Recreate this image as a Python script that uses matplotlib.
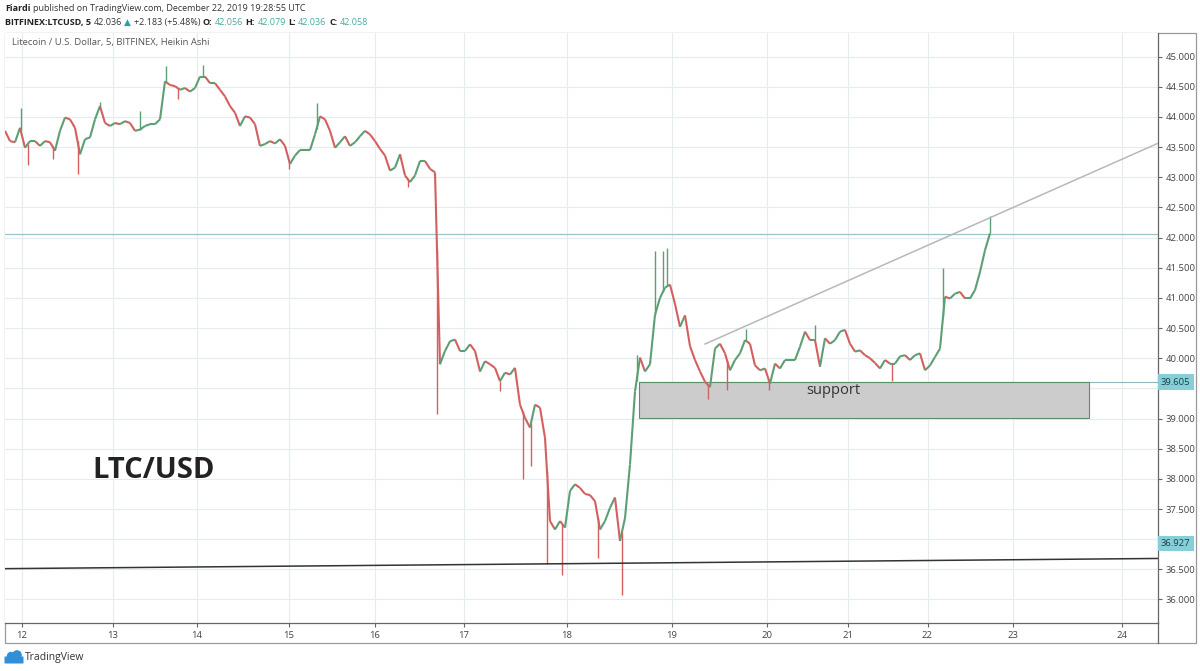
import numpy as np
import matplotlib.pyplot as plt
import matplotlib.transforms as mtransforms
from matplotlib.collections import LineCollection
from matplotlib.patches import Rectangle, Circle, FancyBboxPatch

plt.rcParams['font.family'] = ['Open Sans', 'DejaVu Sans']

# Heikin Ashi closes, LTC/USD 5m (Bitfinex), one value per 5 px
close_dec12_16 = [
    43.77, 43.60, 43.58, 43.82, 43.49, 43.60, 43.60, 43.52, 43.60, 43.58,
    43.44, 43.77, 43.99, 43.96, 43.82, 43.38, 43.63, 43.66, 43.96, 44.18,
    43.90, 43.85, 43.90, 43.88, 43.93, 43.90, 43.77, 43.79, 43.85, 43.88,
    43.88, 43.96, 44.59, 44.53, 44.51, 44.45, 44.48, 44.42, 44.48, 44.67,
    44.67, 44.56, 44.56, 44.45, 44.34, 44.18, 44.07, 43.85, 44.01, 43.99,
    43.88, 43.52, 43.55, 43.60, 43.56, 43.63, 43.52, 43.22, 43.36, 43.45,
    43.45, 43.45, 43.71, 44.01, 43.96, 43.77, 43.49, 43.58, 43.68, 43.52,
    43.58, 43.68, 43.77, 43.71, 43.60, 43.47, 43.36, 43.11, 43.16, 43.38,
    43.03, 42.92, 43.03, 43.27, 43.27, 43.14, 43.08]
close_dec16_19 = [
    39.90, 40.12, 40.28, 40.31, 40.12, 40.12, 40.23, 40.12, 39.78, 39.95,
    39.90, 39.84, 39.62, 39.76, 39.73, 39.84, 39.23, 39.01, 38.85, 39.23,
    39.18, 38.68, 37.30, 37.16, 37.30, 37.19, 37.80, 37.91, 37.85, 37.75,
    37.73, 37.63, 37.16, 37.30, 37.52, 37.69, 36.97, 37.35, 38.24, 39.45,
    40.01, 39.78, 39.90, 40.72, 41.00, 41.17, 41.22, 40.90, 40.52, 40.71,
    40.20, 39.97, 39.78]
close_dec19_22 = [
    39.61, 39.52, 40.16, 40.24, 40.08, 39.80, 39.97, 40.08, 40.30, 40.24,
    39.88, 39.80, 39.83, 39.58, 39.91, 39.83, 39.97, 39.97, 39.97, 40.19,
    40.44, 40.30, 40.30, 39.86, 40.33, 40.24, 40.30, 40.44, 40.47, 40.24,
    40.11, 40.13, 40.05, 40.00, 39.92, 39.83, 39.97, 39.91, 39.91, 40.03,
    40.05, 39.97, 40.05, 40.08, 39.80, 39.88, 40.02, 40.16, 41.02, 40.99,
    41.07, 41.10, 40.99, 40.99, 41.13, 41.43, 41.79, 42.07]
ha_close = close_dec12_16 + close_dec16_19 + close_dec19_22

# long wicks (bar index, extreme price)
wick_bar = [3.1, 4.5, 9.5, 14.5, 19.0, 26.9, 32.2, 34.6, 39.6, 56.8, 62.3, 80.6,
            86.4, 99.0, 103.5, 105.2, 108.4, 111.4, 118.6, 123.4, 126.3, 130.0,
            131.6, 132.4, 140.6, 144.4, 148.2, 152.8, 162.0, 177.4, 187.6, 197.0]
wick_price = [44.15, 43.20, 43.30, 43.05, 44.24, 44.10, 44.84, 44.30, 44.86, 43.14,
              44.23, 42.84, 39.07, 39.45, 38.00, 38.21, 36.58, 36.41, 36.69, 36.08,
              40.06, 41.77, 41.77, 41.83, 39.33, 39.47, 40.49, 39.47, 40.55, 39.63,
              41.49, 42.35]

day_labels = ['12', '13', '14', '15', '16', '17', '18', '19', '20', '21', '22', '23', '24']
day_bar = [3.4, 21.5, 38.4, 56.7, 74.0, 91.7, 112.4, 133.3, 152.4, 168.6, 184.5, 201.6, 223.4]

last_price = 42.058
support_bars = [126.7, 216.7]
support_low, support_high = 39.01, 39.605
trend_bars, trend_prices = [140.0, 230.5], [40.235, 43.56]
base_bars, base_prices = [0.0, 230.5], [36.511, 36.680]
axis_marks = [39.605, 36.927]

GREEN, RED = '#5c9f74', '#d45f5f'
W, H = 1200, 671

fig = plt.figure(figsize=(W / 100, H / 100), dpi=100)
ax = fig.add_axes([5 / W, (H - 623) / H, 1152.5 / W, (623 - 32.5) / H])
ax.set_xlim(0, 230.5)
ax.set_ylim(35.61, 45.40)

# candles as a coloured step line
x = np.arange(len(ha_close))
c = np.array(ha_close)
segs = [[(x[i - 1], c[i - 1]), (x[i], c[i])] for i in range(1, len(c))]
cols = [GREEN if c[i] >= c[i - 1] else RED for i in range(1, len(c))]
ax.add_collection(LineCollection(segs, colors=cols, linewidths=1.5, zorder=3))
wb = np.array(wick_bar)
wp = np.array(wick_price)
base = np.interp(wb, x, c)
ax.vlines(wb, base, wp, colors=[GREEN if p > b else RED for p, b in zip(wp, base)],
          linewidth=1.0, zorder=3)

# drawings
ax.axhline(last_price, color='#9cc3c6', lw=0.9, zorder=2)
ax.plot([support_bars[0], 230.5], [support_high] * 2, color='#8fb8bb', lw=0.8, zorder=2)
ax.add_patch(Rectangle((support_bars[0], support_low), support_bars[1] - support_bars[0],
                       support_high - support_low, facecolor='#cccccc', edgecolor='#5a8f6a',
                       lw=0.8, zorder=2.5))
ax.text(sum(support_bars) / 2 - 6, 39.46, 'support', fontsize=10.5, color='#333333',
        ha='center', va='center', zorder=4)
ax.plot(trend_bars, trend_prices, color='#b8b8b8', lw=1.1, zorder=4)
ax.plot(base_bars, base_prices, color='#333333', lw=1.1, zorder=4)
ax.text(17.4, 38.14, 'LTC/USD', fontsize=21, fontweight='bold', color='#222222',
        ha='left', va='center')
ax.text(0.006, 0.983, 'Litecoin / U.S. Dollar, 5, BITFINEX, Heikin Ashi', transform=ax.transAxes,
        fontsize=6.8, color='#555555', ha='left', va='center')

# axes styling
ax.set_xticks(day_bar, day_labels)
ax.set_yticks(np.arange(36.0, 45.01, 0.5))


def price_fmt(v, pos):
    # labels hidden behind the drawing marks on the price scale
    if min(abs(v - m) for m in axis_marks) < 0.15:
        return ''
    return f'{v:.3f}'


ax.yaxis.set_major_formatter(plt.FuncFormatter(price_fmt))
ax.yaxis.tick_right()
ax.tick_params(axis='both', length=3, width=0.8, color='#666666', labelsize=6.8,
               labelcolor='#444444')
ax.tick_params(axis='y', pad=3)
ax.tick_params(axis='x', pad=3)
ax.grid(True, color='#e4ecef', lw=0.8)
ax.set_axisbelow(True)
for s in ['top', 'left']:
    ax.spines[s].set_visible(False)
for s in ['right', 'bottom']:
    ax.spines[s].set_color('#666666')
    ax.spines[s].set_linewidth(0.9)

blend = mtransforms.blended_transform_factory(ax.transAxes, ax.transData)
for v in axis_marks:
    ax.text(1.003, v, f'{v:.3f}', transform=blend, fontsize=6.8, color='#1e3c42',
            ha='left', va='center', clip_on=False, zorder=6,
            bbox=dict(boxstyle='square,pad=0.35', fc='#86cfd9', ec='none'))

# overlay in pixel coordinates: frame, header, footer
ov = fig.add_axes([0, 0, 1, 1], zorder=-1)
ov.set_xlim(0, W)
ov.set_ylim(H, 0)
ov.axis('off')
ov.add_patch(Rectangle((5, 32.5), 1190.7, 610.5, fill=False, ec='#9a9a9a', lw=0.9))
ov.plot([1157.5, 1157.5], [623, 643], color='#666666', lw=0.9)

renderer = fig.canvas.get_renderer()


def text_run(x0, y0, pieces, size):
    xx = x0
    for s, color, weight in pieces:
        t = ov.text(xx, y0, s, fontsize=size, color=color, fontweight=weight,
                    ha='left', va='center')
        bb = t.get_window_extent(renderer)
        xx = bb.x1 + 2.5


text_run(5, 8.5, [('Fiardi', '#222222', 'bold'),
                  ('published on TradingView.com, December 22, 2019 19:28:55 UTC', '#333333', 'normal')], 6.5)
TEAL = '#4aa8a0'
text_run(5, 22.5, [('BITFINEX:LTCUSD, 5', '#222222', 'bold'),
                   ('42.036', '#333333', 'normal'),
                   ('\u25b2', '#26a69a', 'normal'),
                   ('+2.183 (+5.48%)', '#333333', 'normal'),
                   ('O:', '#222222', 'bold'), ('42.056', TEAL, 'normal'),
                   ('H:', '#222222', 'bold'), ('42.079', TEAL, 'normal'),
                   ('L:', '#222222', 'bold'), ('42.036', TEAL, 'normal'),
                   ('C:', '#222222', 'bold'), ('42.058', TEAL, 'normal')], 6.5)

# TradingView logo
logo = '#2f8fd8'
ov.add_patch(FancyBboxPatch((5, 657), 18, 6, boxstyle='round,pad=0.5', fc=logo, ec='none'))
ov.add_patch(Circle((11, 656), 4.2, fc=logo, ec='none'))
ov.add_patch(Circle((17, 655), 4.8, fc=logo, ec='none'))
ov.text(25, 657.5, 'TradingView', fontsize=7.5, color='#333333', ha='left', va='center')

fig.savefig('out.png', dpi=100)
